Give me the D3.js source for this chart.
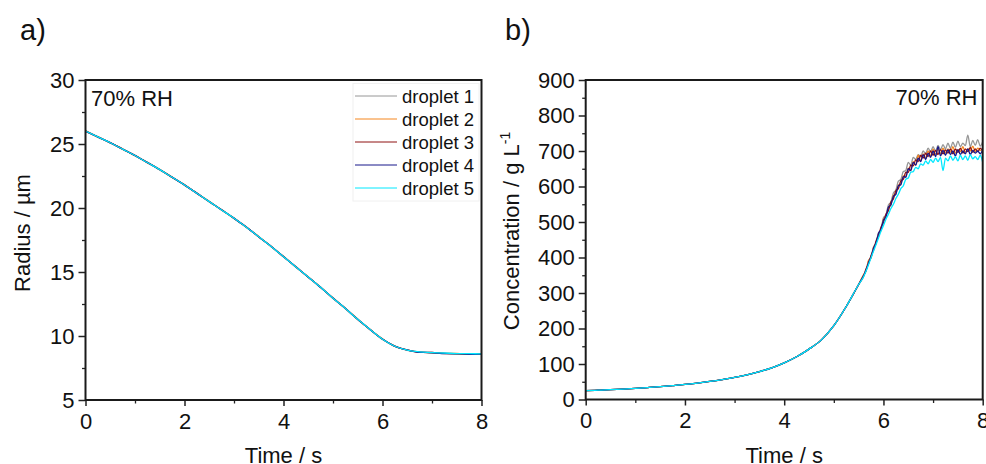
<!DOCTYPE html>
<html><head><meta charset="utf-8">
<script src="https://cdn.jsdelivr.net/npm/d3@7"></script>
<style>
html,body{margin:0;padding:0;background:#fff;}
svg{display:block;}
text{font-family:"Liberation Sans",Arial,sans-serif;fill:#111;}
</style></head>
<body>
<svg id="chart" width="986" height="464"></svg>
<script>
// ---------- data ----------
const seriesNames = ["droplet 1","droplet 2","droplet 3","droplet 4","droplet 5"];
const seriesColors = ["#969696","#f5861f","#8e1010","#16168a","#00e8ff"];

const xTicks = [0,2,4,6,8];
const radiusTicks = [5,10,15,20,25,30];
const concTicks = [0,100,200,300,400,500,600,700,800,900];

const timeA = [0,0.25,0.5,0.75,1,1.25,1.5,1.75,2,2.25,2.5,2.75,3,3.25,3.5,3.75,4,4.25,4.5,4.75,5,5.25,5.5,5.75,6,6.25,6.5,6.75,7,7.25,7.5,7.75,8];
const radius1 = [26.02,25.57,25.08,24.62,24.08,23.57,22.98,22.42,21.78,21.17,20.48,19.87,19.18,18.52,17.73,17.02,16.18,15.42,14.58,13.82,12.93,12.17,11.28,10.52,9.73,9.22,8.88,8.76,8.68,8.66,8.60,8.62,8.58];
const radius2 = [26.05,25.53,25.12,24.58,24.12,23.53,23.03,22.38,21.83,21.13,20.53,19.83,19.22,18.48,17.78,16.98,16.23,15.38,14.63,13.78,12.98,12.13,11.33,10.48,9.78,9.18,8.92,8.73,8.72,8.63,8.64,8.58,8.62];
const radius3 = [25.98,25.56,25.09,24.61,24.09,23.56,22.99,22.41,21.79,21.16,20.49,19.86,19.19,18.51,17.74,17.01,16.19,15.41,14.59,13.81,12.94,12.16,11.29,10.51,9.74,9.21,8.89,8.74,8.69,8.64,8.61,8.59,8.60];
const radius4 = [26.00,25.54,25.11,24.59,24.11,23.54,23.01,22.39,21.81,21.14,20.51,19.84,19.21,18.49,17.76,16.99,16.21,15.39,14.61,13.79,12.96,12.14,11.31,10.49,9.76,9.19,8.91,8.72,8.71,8.62,8.63,8.57,8.59];
const radius5 = [26.01,25.55,25.10,24.60,24.10,23.55,23.00,22.40,21.80,21.15,20.50,19.85,19.20,18.50,17.75,17.00,16.20,15.40,14.60,13.80,12.95,12.15,11.30,10.50,9.75,9.20,8.90,8.76,8.70,8.67,8.63,8.62,8.61];

const timeB = [0,0.25,0.5,0.75,1,1.25,1.5,1.75,2,2.25,2.5,2.75,3,3.25,3.5,3.75,4,4.25,4.5,4.75,5,5.25,5.5,
  5.6,5.65,5.7,5.75,5.8,5.85,5.9,5.95,6,6.05,6.1,6.15,6.2,6.25,6.3,6.35,6.4,6.45,6.5,6.55,6.6,6.65,6.7,6.75,6.8,6.85,6.9,6.95,
  7,7.05,7.1,7.15,7.2,7.25,7.3,7.35,7.4,7.45,7.5,7.55,7.6,7.65,7.7,7.75,7.8,7.85,7.9,7.95,8];
const concEarly = [25.0,26.3,27.8,29.5,31.4,33.6,36.1,39.1,42.4,46.4,51.0,56.2,62.1,69.4,78.6,89.4,103.3,120.5,142,168,208,262,324];
const concLate1 = [350,364,390,402,430,441,470,478,512,520,548,556,582,590,615,620,642,645,668,660,682,676,690,684,700,692,708,698,712,700,716,704,718,706,722,708,725,710,728,712,722,715,745,712,730,716,732,714,726];
const concLate2 = [352,362,392,399,428,440,466,476,508,515,540,548,575,580,604,606,630,628,652,645,670,660,688,672,692,680,700,686,705,690,706,692,708,694,706,696,712,694,704,698,712,696,706,700,714,698,708,702,706];
const concLate3 = [347,368,382,406,420,446,460,485,498,522,532,556,565,588,594,616,620,640,640,660,658,675,670,688,680,694,684,700,688,702,690,704,692,703,694,706,692,706,696,708,694,706,698,710,696,706,698,708,700];
const concLate4 = [349,364,386,401,426,440,468,479,505,514,542,548,572,578,602,605,628,626,650,645,668,660,680,670,690,676,694,682,700,684,712,686,702,688,704,690,700,686,704,690,700,692,706,690,702,694,700,692,704];
const concLate5 = [346,362,380,399,418,436,455,474,490,508,522,538,550,566,578,594,602,620,624,640,642,654,650,664,660,672,664,676,668,680,670,682,645,680,672,686,674,684,672,688,676,686,674,690,678,684,676,688,668];

// ---------- drawing ----------
const svg = d3.select("#chart");
svg.append("rect").attr("width",986).attr("height",464).attr("fill","#fff");

const radiusSeries = [radius1,radius2,radius3,radius4,radius5];
const concSeries = [concLate1,concLate2,concLate3,concLate4,concLate5].map(l => concEarly.concat(l));

function panel(opt){
  const g = svg.append("g");
  const x = d3.scaleLinear().domain([0,8]).range([opt.left,opt.right]);
  const y = d3.scaleLinear().domain(opt.ydomain).range([opt.bottom,opt.top]);
  const clipId = "clip"+opt.id;
  svg.append("clipPath").attr("id",clipId).append("rect")
    .attr("x",opt.left).attr("y",opt.top).attr("width",opt.right-opt.left).attr("height",opt.bottom-opt.top);

  // minor ticks
  const xMinor = [1,3,5,7];
  g.append("g").attr("transform",`translate(0,${opt.bottom})`)
    .call(d3.axisBottom(x).tickValues(xMinor).tickSize(3.5).tickFormat(""))
    .call(a=>a.select(".domain").remove()).selectAll("line").attr("stroke","#222").attr("stroke-width",1.3);
  g.append("g").attr("transform",`translate(${opt.left},0)`)
    .call(d3.axisLeft(y).tickValues(opt.yMinor).tickSize(3.5).tickFormat(""))
    .call(a=>a.select(".domain").remove()).selectAll("line").attr("stroke","#222").attr("stroke-width",1.3);

  // major ticks
  const xa = g.append("g").attr("transform",`translate(0,${opt.bottom})`)
    .call(d3.axisBottom(x).tickValues(xTicks).tickSize(6).tickPadding(7).tickFormat(d3.format("d")));
  xa.select(".domain").remove();
  xa.selectAll("line").attr("stroke","#222").attr("stroke-width",1.5);
  xa.selectAll("text").attr("font-size",22).attr("font-family","Liberation Sans, Arial, sans-serif").attr("fill","#111");

  const ya = g.append("g").attr("transform",`translate(${opt.left},0)`)
    .call(d3.axisLeft(y).tickValues(opt.yticks).tickSize(7).tickPadding(4).tickFormat(d3.format("d")));
  ya.select(".domain").remove();
  ya.selectAll("line").attr("stroke","#222").attr("stroke-width",1.5);
  ya.selectAll("text").attr("font-size",22).attr("font-family","Liberation Sans, Arial, sans-serif").attr("fill","#111");

  // lines
  const lg = g.append("g").attr("clip-path",`url(#${clipId})`);
  opt.series.forEach((vals,i)=>{
    const pts = opt.time.map((t,k)=>[t,vals[k]]);
    lg.append("path").datum(pts)
      .attr("fill","none").attr("stroke",seriesColors[i]).attr("stroke-width",1.3)
      .attr("stroke-linejoin","round")
      .attr("d",d3.line().x(d=>x(d[0])).y(d=>y(d[1])).curve(d3.curveMonotoneX));
  });

  // frame
  g.append("rect").attr("x",opt.left).attr("y",opt.top)
    .attr("width",opt.right-opt.left).attr("height",opt.bottom-opt.top)
    .attr("fill","none").attr("stroke","#1a1a1a").attr("stroke-width",2);

  // x title
  g.append("text").attr("x",(opt.left+opt.right)/2).attr("y",462.5)
    .attr("text-anchor","middle").attr("font-size",22).text("Time / s");
  return {g,x,y};
}

// Panel a
const pa = panel({id:"a",left:85.5,right:481.5,top:80,bottom:400,ydomain:[5,30],
  yticks:radiusTicks,yMinor:[7.5,12.5,17.5,22.5,27.5],time:timeA,series:radiusSeries});
pa.g.append("text").attr("transform","translate(29.5,233) rotate(-90)")
  .attr("text-anchor","middle").attr("font-size",22).text("Radius / µm");
pa.g.append("text").attr("x",91).attr("y",106).attr("font-size",22).text("70% RH");

// legend
const leg = pa.g.append("g");
leg.append("rect").attr("x",353).attr("y",83.5).attr("width",126).attr("height",117.5)
  .attr("fill","#fff").attr("stroke","#f0f0f0").attr("stroke-width",1);
seriesNames.forEach((n,i)=>{
  const yy = 96 + i*23.1;
  leg.append("line").attr("x1",355).attr("x2",397).attr("y1",Math.round(yy)).attr("y2",Math.round(yy))
    .attr("stroke",seriesColors[i]).attr("stroke-width",1);
  leg.append("text").attr("x",402).attr("y",yy+6.5).attr("font-size",18.5).text(n);
});

// Panel b
const pb = panel({id:"b",left:585.7,right:982.7,top:80,bottom:399.5,ydomain:[0,900],
  yticks:concTicks,yMinor:[50,150,250,350,450,550,650,750,850],time:timeB,series:concSeries});
const yl = pb.g.append("text").attr("transform","translate(518.5,231) rotate(-90)")
  .attr("text-anchor","middle").attr("font-size",22);
yl.append("tspan").text("Concentration / g L");
yl.append("tspan").attr("font-size",14).attr("dy",-9).text("-1");
pb.g.append("text").attr("x",977.5).attr("y",105).attr("text-anchor","end").attr("font-size",22).text("70% RH");

// panel letters
svg.append("text").attr("x",20).attr("y",40).attr("font-family","Open Sans, sans-serif").attr("font-size",29).text("a)");
svg.append("text").attr("x",505).attr("y",40).attr("font-family","Open Sans, sans-serif").attr("font-size",29).text("b)");
</script>
</body></html>
